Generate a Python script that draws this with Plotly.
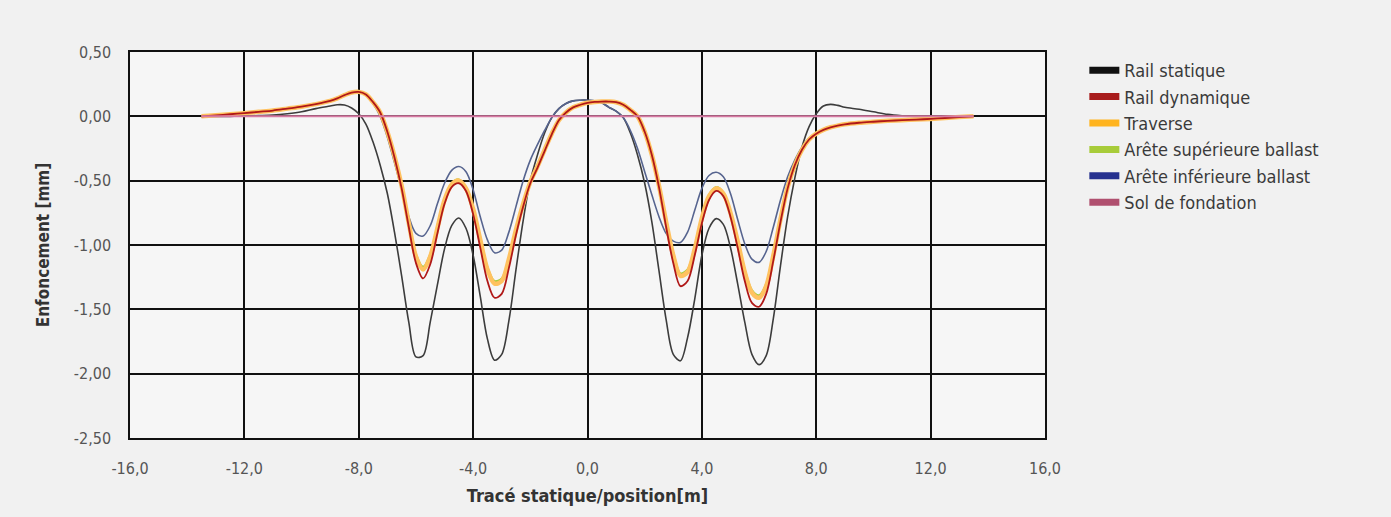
import plotly.graph_objects as go

# ---- data ----
x_pos = [-13.5, -13.0, -12.5, -12.0, -11.5, -11.0, -10.5, -10.0, -9.5,
         -9.0, -8.75, -8.5, -8.25, -8.0, -7.75, -7.5, -7.25, -7.0, -6.75, -6.5, -6.25,
         -6.0, -5.75, -5.5, -5.25, -5.0, -4.75, -4.5, -4.25, -4.0, -3.75, -3.5, -3.25,
         -3.0, -2.75, -2.5, -2.25, -2.0, -1.75, -1.5, -1.25, -1.0, -0.75, -0.5, -0.25,
         0.0, 0.25, 0.5, 0.75, 1.0, 1.25, 1.5, 1.75, 2.0, 2.25, 2.5, 2.75,
         3.0, 3.25, 3.5, 3.75, 4.0, 4.25, 4.5, 4.75, 5.0, 5.25, 5.5, 5.75,
         6.0, 6.25, 6.5, 6.75, 7.0, 7.25, 7.5, 7.75, 8.0, 8.25, 8.5, 8.75, 9.0,
         9.5, 10.0, 10.5, 11.0, 11.5, 12.0, 12.5, 13.0, 13.5]

rail_statique = [0.0, 0.0, 0.0, 0.003, 0.006, 0.01, 0.02, 0.035, 0.06,
                 0.08, 0.09, 0.088, 0.065, 0.02, -0.06, -0.20, -0.38, -0.60, -0.90, -1.24, -1.60,
                 -1.87, -1.86, -1.60, -1.31, -1.03, -0.85, -0.79, -0.87, -1.08, -1.40, -1.73, -1.895,
                 -1.85, -1.59, -1.19, -0.81, -0.50, -0.30, -0.13, -0.01, 0.06, 0.10, 0.12, 0.125,
                 0.125, 0.12, 0.105, 0.07, 0.04, -0.01, -0.13, -0.30, -0.52, -0.82, -1.20, -1.58,
                 -1.85, -1.90, -1.72, -1.42, -1.08, -0.87, -0.795, -0.84, -1.02, -1.30, -1.60, -1.85,
                 -1.93, -1.86, -1.57, -1.16, -0.78, -0.48, -0.24, -0.08, 0.02, 0.08, 0.093, 0.085, 0.07,
                 0.055, 0.035, 0.015, 0.005, 0.0, 0.0, 0.0, 0.0, 0.0]

rail_dynamique = [0.0, 0.008, 0.016, 0.025, 0.035, 0.045, 0.06, 0.075, 0.095,
                  0.12, 0.14, 0.165, 0.185, 0.19, 0.17, 0.11, 0.03, -0.12, -0.32, -0.56, -0.86,
                  -1.14, -1.26, -1.15, -0.91, -0.68, -0.55, -0.52, -0.58, -0.76, -1.02, -1.28, -1.41,
                  -1.38, -1.18, -0.92, -0.70, -0.52, -0.40, -0.27, -0.14, -0.03, 0.03, 0.07, 0.09,
                  0.105, 0.112, 0.115, 0.115, 0.11, 0.09, 0.05, 0.0, -0.12, -0.30, -0.55, -0.86,
                  -1.14, -1.32, -1.28, -1.08, -0.83, -0.65, -0.58, -0.62, -0.78, -1.02, -1.28, -1.45,
                  -1.48, -1.38, -1.12, -0.82, -0.56, -0.38, -0.26, -0.18, -0.135, -0.105, -0.085, -0.072, -0.062,
                  -0.05, -0.042, -0.035, -0.03, -0.025, -0.02, -0.013, -0.006, 0.0]

traverse = [0.0, 0.008, 0.016, 0.025, 0.035, 0.045, 0.06, 0.075, 0.095,
            0.12, 0.14, 0.165, 0.185, 0.19, 0.17, 0.11, 0.03, -0.12, -0.31, -0.54, -0.83,
            -1.09, -1.19, -1.09, -0.87, -0.65, -0.53, -0.50, -0.56, -0.72, -0.96, -1.19, -1.30,
            -1.28, -1.11, -0.88, -0.68, -0.51, -0.39, -0.26, -0.135, -0.03, 0.03, 0.07, 0.09,
            0.105, 0.112, 0.115, 0.115, 0.11, 0.09, 0.05, 0.0, -0.12, -0.30, -0.54, -0.82,
            -1.08, -1.24, -1.21, -1.03, -0.79, -0.62, -0.56, -0.60, -0.75, -0.97, -1.21, -1.37,
            -1.41, -1.32, -1.08, -0.80, -0.55, -0.38, -0.26, -0.18, -0.135, -0.105, -0.085, -0.072, -0.062,
            -0.05, -0.042, -0.035, -0.03, -0.025, -0.02, -0.013, -0.006, 0.0]

arete_sup = [0.0, 0.008, 0.016, 0.025, 0.035, 0.045, 0.06, 0.075, 0.095,
             0.12, 0.14, 0.165, 0.185, 0.19, 0.17, 0.11, 0.03, -0.12, -0.31, -0.54, -0.82,
             -1.07, -1.17, -1.07, -0.85, -0.64, -0.52, -0.49, -0.55, -0.71, -0.94, -1.17, -1.28,
             -1.26, -1.10, -0.88, -0.68, -0.51, -0.39, -0.26, -0.135, -0.03, 0.03, 0.07, 0.09,
             0.105, 0.112, 0.115, 0.115, 0.11, 0.09, 0.05, 0.0, -0.12, -0.30, -0.54, -0.81,
             -1.06, -1.22, -1.19, -1.01, -0.78, -0.61, -0.55, -0.59, -0.74, -0.95, -1.19, -1.35,
             -1.39, -1.30, -1.06, -0.79, -0.55, -0.38, -0.26, -0.18, -0.135, -0.105, -0.085, -0.072, -0.062,
             -0.05, -0.042, -0.035, -0.03, -0.025, -0.02, -0.013, -0.006, 0.0]

arete_inf = [0.0, 0.008, 0.016, 0.025, 0.035, 0.045, 0.06, 0.075, 0.095,
             0.12, 0.14, 0.165, 0.185, 0.19, 0.165, 0.10, 0.0, -0.16, -0.36, -0.57, -0.78,
             -0.91, -0.93, -0.85, -0.68, -0.52, -0.42, -0.39, -0.43, -0.57, -0.78, -0.96, -1.06,
             -1.04, -0.90, -0.70, -0.50, -0.34, -0.22, -0.11, -0.01, 0.06, 0.10, 0.12, 0.125,
             0.125, 0.12, 0.105, 0.07, 0.04, -0.01, -0.11, -0.25, -0.43, -0.61, -0.78, -0.91,
             -0.97, -0.98, -0.90, -0.73, -0.56, -0.46, -0.435, -0.47, -0.60, -0.80, -0.99, -1.11,
             -1.135, -1.05, -0.86, -0.65, -0.47, -0.34, -0.24, -0.17, -0.135, -0.105, -0.085, -0.072, -0.062,
             -0.05, -0.042, -0.035, -0.03, -0.025, -0.02, -0.013, -0.006, 0.0]

sol_x = [-13.5, 13.5]
sol_fondation = [0.0, 0.0]

names = ["Rail statique", "Rail dynamique", "Traverse",
         "Arête supérieure ballast", "Arête inférieure ballast", "Sol de fondation"]

x_ticks = [-16, -12, -8, -4, 0, 4, 8, 12, 16]
x_ticktext = ["-16,0", "-12,0", "-8,0", "-4,0", "0,0", "4,0", "8,0", "12,0", "16,0"]
y_ticks = [0.5, 0.0, -0.5, -1.0, -1.5, -2.0, -2.5]
y_ticktext = ["0,50", "0,00", "-0,50", "-1,00", "-1,50", "-2,00", "-2,50"]

# ---- styles ----
plot_colors = ["#3c3c3c", "#b01818", "#ffc260", "#a8cc3a", "#56648f", "#d77aa3"]
legend_colors = ["#111111", "#a81c1c", "#ffb41f", "#a8cc3a", "#26318f", "#b0506f"]
FONT = "DejaVu Sans, sans-serif"
FONT_C = "DejaVu Sans Condensed, DejaVu Sans, sans-serif"

fig = go.Figure()

series = [
    (rail_statique, 0, 1.6),
    (arete_inf, 4, 1.6),
    (arete_sup, 3, 2.0),
    (traverse, 2, 4.5),
    (rail_dynamique, 1, 1.8),
]
for ys, idx, w in series:
    fig.add_trace(go.Scatter(x=x_pos, y=ys, mode="lines", name=names[idx],
                             line=dict(color=plot_colors[idx], width=w, shape="spline", smoothing=0.9),
                             showlegend=False, hoverinfo="skip"))
fig.add_trace(go.Scatter(x=sol_x, y=sol_fondation, mode="lines", name=names[5],
                         line=dict(color=plot_colors[5], width=2),
                         showlegend=False, hoverinfo="skip"))

# legend entries
for i, nm in enumerate(names):
    fig.add_trace(go.Scatter(x=[None], y=[None], mode="lines", name=nm,
                             line=dict(color=legend_colors[i], width=7),
                             showlegend=True))

fig.update_layout(
    width=1391, height=517,
    margin=dict(l=130, r=346, t=52, b=79),
    paper_bgcolor="#f1f1f1",
    plot_bgcolor="#f6f6f6",
    font=dict(family=FONT, color="#444"),
    legend=dict(x=1.043, y=1.0, xanchor="left", yanchor="top",
                font=dict(size=18, color="#3a3a3a", family=FONT_C),
                bgcolor="rgba(0,0,0,0)"),
    showlegend=True,
)
fig.update_xaxes(range=[-16, 16], tickvals=x_ticks, ticktext=x_ticktext,
                 showgrid=True, gridcolor="#111", gridwidth=1.5,
                 zeroline=False, showline=True, linecolor="#111", linewidth=1.5, mirror=True,
                 ticks="outside", ticklen=15, tickcolor="rgba(0,0,0,0)",
                 tickfont=dict(size=16, color="#555", family=FONT_C),
                 title=dict(text="<b>Tracé statique/position[m]</b>", standoff=12,
                            font=dict(size=18, color="#333", family=FONT_C)))
fig.update_yaxes(range=[-2.5, 0.5], tickvals=y_ticks, ticktext=y_ticktext,
                 showgrid=True, gridcolor="#111", gridwidth=1.5,
                 zeroline=False, showline=True, linecolor="#111", linewidth=1.5, mirror=True,
                 ticks="outside", ticklen=14, tickcolor="rgba(0,0,0,0)",
                 tickfont=dict(size=16, color="#555", family=FONT_C),
                 title=dict(text="<b>Enfoncement [mm]</b>", standoff=20,
                            font=dict(size=17, color="#333", family=FONT_C)))

fig.write_html("out.html", config={"displayModeBar": False})

# remove the default page margin so the figure sits at the window origin
with open("out.html", "r", encoding="utf-8") as f:
    html = f.read()
html = html.replace("<head>", "<head><style>html,body{margin:0;padding:0;overflow:hidden;}</style>", 1)
with open("out.html", "w", encoding="utf-8") as f:
    f.write(html)
